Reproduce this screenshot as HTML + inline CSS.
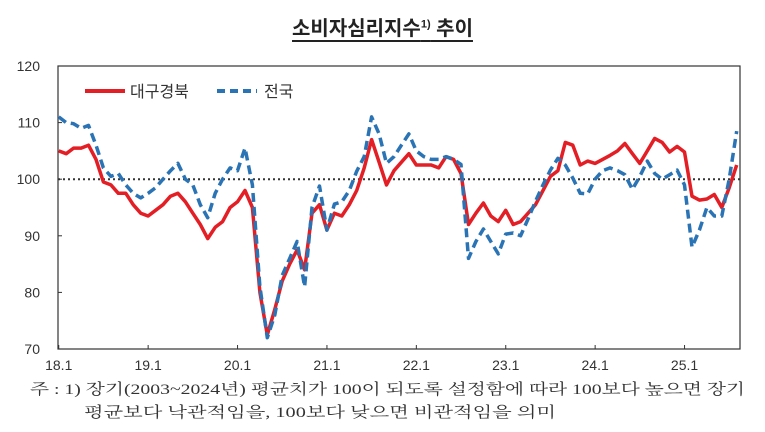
<!DOCTYPE html>
<html><head><meta charset="utf-8"><style>
body{margin:0;background:#fff;width:765px;height:432px;overflow:hidden;font-family:"Liberation Sans","Noto Sans CJK KR",sans-serif}
.t{position:absolute;left:0;width:765px;top:12px;text-align:center;font-size:20px;font-weight:bold;color:#222}
.t span{text-decoration:underline;text-underline-offset:5px}
</style></head><body>
<div class="t"><span>소비자심리지수<sup style="font-size:11px">1)</sup> 추이</span></div>
<svg id="c" width="765" height="432" style="position:absolute;left:0;top:0">
<text x="30" y="394" font-size="15" fill="#333" textLength="715" lengthAdjust="spacingAndGlyphs" font-family="Liberation Serif, Noto Serif CJK SC, serif">주 : 1) 장기(2003~2024년) 평균치가 100이 되도록 설정함에 따라 100보다 높으면 장기</text>
<text x="84" y="417" font-size="15" fill="#333" textLength="472" lengthAdjust="spacingAndGlyphs" font-family="Liberation Serif, Noto Serif CJK SC, serif">평균보다 낙관적임을, 100보다 낮으면 비관적임을 의미</text>
</svg>
<script>
const daegu=[105,104.5,105.5,105.5,106,103.5,99.5,99,97.5,97.5,95.5,94,93.5,94.5,95.5,97,97.5,96,94,92,89.5,91.5,92.5,95,96,98,95,80,72.5,77,82,85,87.5,84,94,95.5,91,94,93.5,95.5,98,102,107,103,99,101.5,103,104.5,102.5,102.5,102.5,102,104,103.5,101,92,94,95.8,93.5,92.5,94.5,92,92.5,94,95.5,98,100.5,101.5,106.5,106,102.5,103.2,102.8,103.5,104.2,105,106.3,104.5,102.8,105,107.2,106.5,104.8,105.8,104.8,97,96.3,96.5,97.3,95,98.5,102.5];
const national=[111,110,109.8,109,109.5,106,102,100.5,101,99,97.5,96.7,97.5,98.5,100,101.5,102.8,100,99,95.5,93.2,97.5,100,102,101.5,105.5,99,81,72,76,83,86,89,81,95,98.8,91,95.6,96,98,101.4,104,111,108,102.8,104,106,108,105,104,103.5,103.5,104,103.5,102.6,86,89,91.2,89,86.8,90.3,90.5,90,93,96.1,99,101.6,103.7,102.5,100.2,97.5,97.4,100,101.5,102,101.5,100.8,98.2,100.5,103.2,101,100,100.8,101.6,99,88,91,95,93.5,93.5,100,108.5];
const yTicks=[70,80,90,100,110,120];
const xLabels=["18.1","19.1","20.1","21.1","22.1","23.1","24.1","25.1"];
const L=58,R=740,T=66,B=349,N=92;
const xs=i=>L+(i+0.1)*7.45;
const ys=v=>B-(v-70)/50*(B-T);
const s=document.getElementById('c');const NS='http://www.w3.org/2000/svg';
function mk(t,a){const e=document.createElementNS(NS,t);for(const k in a)e.setAttribute(k,a[k]);s.appendChild(e);return e;}
let f=mk('rect',{x:L,y:T,width:R-L,height:B-T,fill:'none',stroke:'#333','stroke-width':1.2});


yTicks.forEach(v=>{let t=mk('text',{x:40,y:ys(v)+5,'text-anchor':'end','font-size':14,fill:'#333'});t.textContent=v;


if(v>70&&v<120){mk('line',{x1:L,x2:L+4,y1:ys(v),y2:ys(v),stroke:'#333'});}});
xLabels.forEach((l,j)=>{const x=xs(j*12);let t=mk('text',{x:x,y:370,'text-anchor':'middle','font-size':14,fill:'#333'});t.textContent=l;


mk('line',{x1:x,x2:x,y1:B,y2:B-4,stroke:'#333'});});
let r=mk('line',{x1:L,x2:R,y1:ys(100),y2:ys(100),stroke:'#333','stroke-width':2,'stroke-dasharray':'2 3'});


function path(arr){return arr.map((v,i)=>(i?'L':'M')+xs(i).toFixed(1)+' '+ys(v).toFixed(1)).join(' ');}
let p1=mk('path',{d:path(daegu),fill:'none',stroke:'#e31e24','stroke-width':3.5,'stroke-linejoin':'round'});


let p2=mk('path',{d:path(national),fill:'none',stroke:'#2a74b5','stroke-width':3.5,'stroke-dasharray':'9 5','stroke-linejoin':'round'});


let g1=mk('line',{x1:85,x2:125,y1:91,y2:91,stroke:'#e31e24','stroke-width':4});


let lt1=mk('text',{x:130,y:97,'font-size':16,fill:'#333'});lt1.textContent='대구경북';


let g2=mk('line',{x1:217,x2:257,y1:91,y2:91,stroke:'#2a74b5','stroke-width':4,'stroke-dasharray':'8 5'});


let lt2=mk('text',{x:264,y:97,'font-size':16,fill:'#333'});lt2.textContent='전국';


</script>
</body></html>
